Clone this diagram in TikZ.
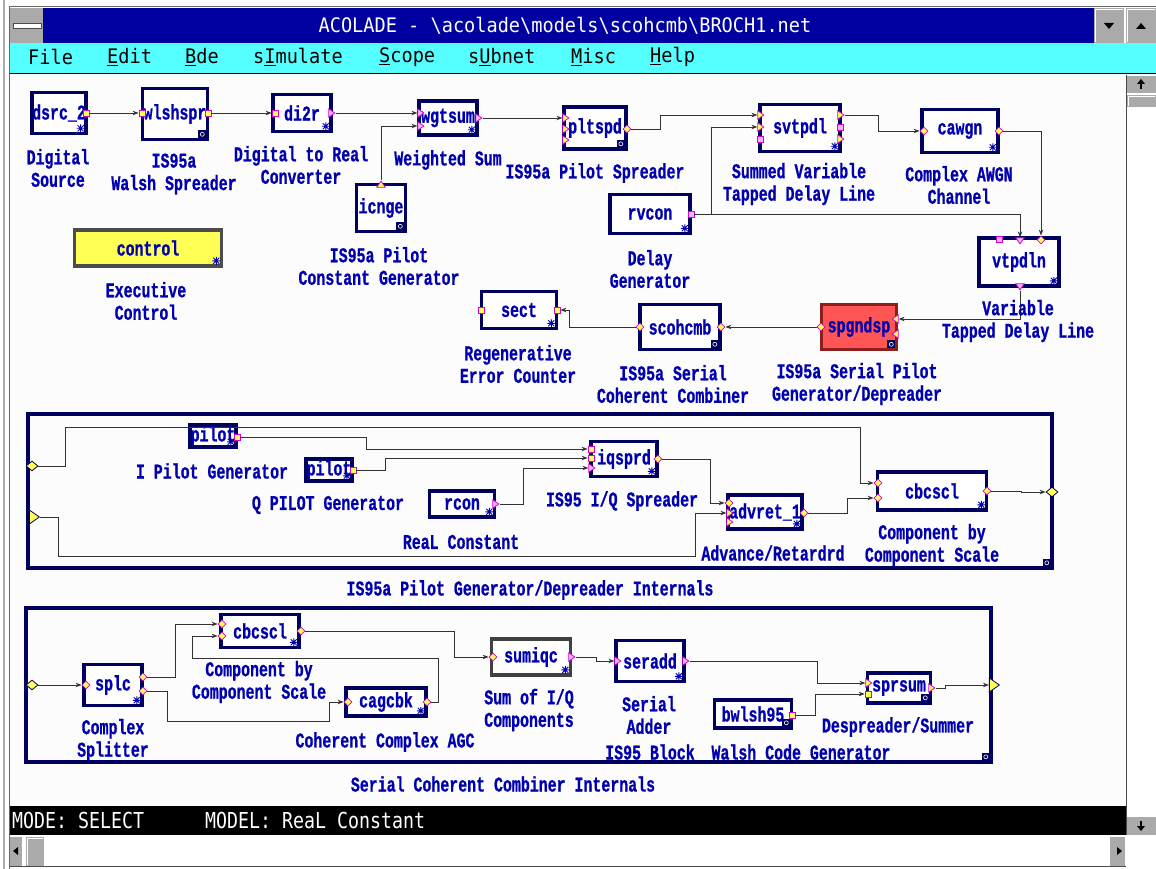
\documentclass[tikz,border=0pt]{standalone}
\usepackage{fontspec}
\usetikzlibrary{shapes.geometric, arrows.meta, calc}
\newfontfamily\lblfont[FakeStretch=0.71,FakeBold=0.8]{Liberation Mono}
\newfontfamily\sysfont[FakeStretch=0.93]{DejaVu Sans Mono}
\newfontfamily\statfont[FakeStretch=0.83]{DejaVu Sans Mono}
\newcommand{\lblf}{\lblfont\bfseries\fontsize{21}{22.5}\selectfont}
\newcommand{\sysf}{\sysfont\fontsize{20}{22}\selectfont}
\newcommand{\statf}{\statfont\fontsize{22}{24}\selectfont}
\definecolor{navyc}{RGB}{0,0,95}
\definecolor{tbar}{RGB}{0,0,160}
\definecolor{bluet}{RGB}{0,0,175}
\definecolor{cyanm}{RGB}{85,255,255}
\definecolor{yelp}{RGB}{255,255,85}
\definecolor{magp}{RGB}{215,0,215}
\definecolor{redb}{RGB}{255,85,85}
\definecolor{redd}{RGB}{140,30,30}
\definecolor{grayb}{RGB}{170,170,170}
\definecolor{bgc}{RGB}{252,252,252}
\tikzset{
  pics/astk/.style={code={\draw[bluet, line width=0.9pt] (-4,0)--(4,0) (0,-4)--(0,4) (-3,-3)--(3,3) (-3,3)--(3,-3);}},
  pics/sqicon/.style={code={\fill[navyc] (-4,-4) rectangle (4,4); \draw[white, line width=0.6pt] (0,0) circle (2);}}
}
\begin{document}
\begin{tikzpicture}[x=1pt,y=-1pt,
  blk/.style={draw=navyc, line width=3.6pt, fill=white, inner sep=0pt, font=\lblf, text=bluet},
  frm/.style={draw=navyc, line width=3.6pt, inner sep=0pt},
  lbl/.style={font=\lblf, text=bluet, align=center, inner sep=0pt},
  menu/.style={font=\sysf, text=black, anchor=west, inner sep=0pt},
  psq/.style={rectangle, draw=magp, fill=yelp, line width=0.8pt, minimum size=6pt, inner sep=0pt},
  pdia/.style={diamond, draw=magp, fill=yelp, line width=0.8pt, minimum size=8pt, inner sep=0pt},
  ptri/.style={isosceles triangle, isosceles triangle apex angle=70, draw=magp, fill=yelp, line width=0.8pt, minimum height=6pt, minimum width=7pt, inner sep=0pt, shape border rotate=#1},
  ptri/.default=0,
  pk/.style={fill=magp!30},
  big/.style={minimum size=12pt, minimum height=10pt, minimum width=12pt, draw=navyc},
  wire/.style={draw=black!80, line width=0.9pt, -{Stealth[length=6pt,width=4.5pt]}}
]
\useasboundingbox (0,0) rectangle (1156,869);
\fill[white] (0,0) rectangle (1156,869);
\fill[bgc] (10,75) rectangle (1126,806);
\draw[grayb, line width=1.5pt] (4,0) -- (4,869);
\draw[black!60, line width=1pt] (9,7) -- (9,869);
\draw[black!60, line width=1pt] (9,7) -- (1156,7);
\fill[grayb] (10,8) rectangle (43,43);
\filldraw[fill=white, draw=black!70] (13,23) rectangle (41,28);
\fill[tbar] (43,8) rectangle (1094,43);
\fill[grayb] (1094,8) rectangle (1124,43);
\fill[grayb] (1126,8) rectangle (1156,43);
\draw[white] (1095,42) -- (1095,9) -- (1123,9);
\draw[white] (1127,42) -- (1127,9) -- (1155,9);
\fill[black] (1104,23) -- (1114,23) -- (1109,29) -- cycle;
\fill[black] (1136,29) -- (1146,29) -- (1141,23) -- cycle;
\node[font=\sysf, text=white, inner sep=0pt] (ttl) at (565,26) {ACOLADE - \textbackslash acolade\textbackslash models\textbackslash scohcmb\textbackslash BROCH1.net};
\fill[cyanm] (10,43) rectangle (1156,73);
\draw[black, line width=1pt] (10,74) -- (1156,74);
\node[menu] (mfile) at (28,57) {File};
\node[menu] (medit) at (107,57) {\underline{E}dit};
\node[menu] (mbde) at (185,57) {\underline{B}de};
\node[menu] (msim) at (253,57) {s\underline{I}mulate};
\node[menu] (mscope) at (379,57) {\underline{S}cope};
\node[menu] (msub) at (468,57) {s\underline{U}bnet};
\node[menu] (mmisc) at (571,57) {\underline{M}isc};
\node[menu] (mhelp) at (650,57) {\underline{H}elp};
\draw[black!70, line width=1pt] (1126,75) -- (1126,835);
\fill[grayb] (1127,76) rectangle (1156,93);
\fill[black] (1137,84) -- (1145,84) -- (1141,79) -- cycle;
\draw[black, line width=1.2pt] (1141,84) -- (1141,89);
\fill[grayb] (1127,95) rectangle (1156,107);
\draw[white] (1128,106) -- (1128,96) -- (1155,96);
\fill[grayb] (1127,817) rectangle (1156,835);
\fill[black] (1137,826) -- (1145,826) -- (1141,831) -- cycle;
\draw[black, line width=1.2pt] (1141,821) -- (1141,826);
\fill[black] (10,806) rectangle (1126,835);
\node[font=\statf, text=white, anchor=west, inner sep=0pt] (smode) at (12,820) {MODE: SELECT};
\node[font=\statf, text=white, anchor=west, inner sep=0pt] (smodel) at (205,820) {MODEL: ReaL Constant};
\draw[black!70, line width=1pt] (10,866) -- (1126,866);
\fill[grayb] (10,837) rectangle (22,866);
\fill[black] (13,851) -- (18,847) -- (18,855) -- cycle;
\fill[grayb] (26,837) rectangle (44,866);
\draw[white] (27,865) -- (27,838) -- (43,838);
\fill[grayb] (1110,837) rectangle (1125,866);
\fill[black] (1122,851) -- (1117,847) -- (1117,855) -- cycle;

\node[blk, minimum width=53pt, minimum height=41pt] (dsrc) at (59,113) {dsrc\_2};
\node[blk, minimum width=65pt, minimum height=51pt] (wlsh) at (175,114) {wlshspr};
\node[blk, minimum width=58pt, minimum height=37pt] (di2r) at (302,113) {di2r};
\node[blk, minimum width=58pt, minimum height=34pt] (wgtsum) at (448,118) {wgtsum};
\node[blk, minimum width=49pt, minimum height=47pt] (icnge) at (381,208) {icnge};
\node[blk, minimum width=62pt, minimum height=42pt] (pltspd) at (595,128) {pltspd};
\node[blk, minimum width=80pt, minimum height=47pt] (svtpdl) at (800,128) {svtpdl};
\node[blk, minimum width=76pt, minimum height=43pt] (cawgn) at (960,131) {cawgn};
\node[blk, minimum width=80pt, minimum height=39pt] (rvcon) at (650,214) {rvcon};
\node[blk, minimum width=80pt, minimum height=48pt] (vtpdln) at (1019,262) {vtpdln};
\node[blk, draw=black!70, fill=yelp, minimum width=147pt, minimum height=36pt] (control) at (148,248) {control};
\node[blk, minimum width=75pt, minimum height=37pt] (sect) at (519,310) {sect};
\node[blk, minimum width=80pt, minimum height=45pt] (scohcmb) at (680,327) {scohcmb};
\node[blk, draw=redd, fill=redb, minimum width=75pt, minimum height=45pt] (spgndsp) at (859,327) {spgndsp};

\node[frm, minimum width=1024pt, minimum height=154pt] (pgdint) at (540,491) {};
\node[blk, minimum width=46pt, minimum height=22pt] (pilotI) at (213,436) {pilot};
\node[blk, minimum width=46pt, minimum height=22pt] (pilotQ) at (329,470) {pilot};
\node[blk, minimum width=65pt, minimum height=26pt] (rcon) at (462,504) {rcon};
\node[blk, minimum width=66pt, minimum height=35pt] (iqsprd) at (624,459) {iqsprd};
\node[blk, minimum width=74pt, minimum height=34pt] (advret) at (765,512) {advret\_1};
\node[blk, minimum width=109pt, minimum height=38pt] (cbcsclA) at (932,491) {cbcscl};

\node[frm, minimum width=965pt, minimum height=154pt] (sccint) at (508.5,685) {};
\node[blk, minimum width=58pt, minimum height=41pt] (splc) at (113,685) {splc};
\node[blk, minimum width=78pt, minimum height=33pt] (cbcsclB) at (260,631) {cbcscl};
\node[blk, minimum width=80pt, minimum height=28pt] (cagcbk) at (386,702) {cagcbk};
\node[blk, draw=black!75, minimum width=79pt, minimum height=36pt] (sumiqc) at (531,657) {sumiqc};
\node[blk, minimum width=68pt, minimum height=41pt] (seradd) at (650,661) {seradd};
\node[blk, minimum width=63pt, minimum height=30pt] (sprsum) at (899,688) {sprsum};
\node[blk, minimum width=77pt, minimum height=28pt] (bwlsh) at (753,714) {bwlsh95};

\foreach \b in {dsrc,di2r,wgtsum,svtpdl,cawgn,rvcon,vtpdln,control,sect,pilotI,pilotQ,rcon,iqsprd,advret,cbcsclA,splc,cbcsclB,cagcbk,sumiqc,seradd}
  \pic at ($(\b.south east)+(-7,-7)$) {astk};
\foreach \b in {wlsh,icnge,pltspd,scohcmb,spgndsp,sprsum,bwlsh,pgdint,sccint}
  \pic at ($(\b.south east)+(-7,-7)$) {sqicon};

\node[psq] (dsrcO) at (86,113) {};
\node[psq] (wlshI) at (142,113) {};
\node[psq] (wlshO) at (208,113) {};
\node[psq] (di2rI) at (275,113) {};
\node[ptri, pk] (di2rO) at (331,113) {};
\node[ptri, pk] (wgtI1) at (420,113) {};
\node[ptri, pk] (wgtI2) at (420,126) {};
\node[ptri, pk] (wgtO) at (478,118) {};
\node[ptri=90] (icngT) at (381,185) {};
\node[ptri] (pltI1) at (565,118) {};
\node[ptri] (pltI2) at (565,129) {};
\node[ptri] (pltI3) at (565,140) {};
\node[pdia] (pltO) at (627,129) {};
\node[ptri] (svtI1) at (760,115) {};
\node[ptri] (svtI2) at (760,127) {};
\node[psq, pk] (svtI3) at (760,139) {};
\node[ptri] (svtO1) at (840,115) {};
\node[psq, pk] (svtO2) at (840,127) {};
\node[ptri] (svtO3) at (840,139) {};
\node[pdia] (cawI) at (924,131) {};
\node[pdia] (cawO) at (999,131) {};
\node[psq, pk] (rvcO) at (691,214) {};
\node[psq, pk] (vtpT1) at (999,239) {};
\node[ptri=270, pk] (vtpT2) at (1020,240) {};
\node[pdia] (vtpT3) at (1041,240) {};
\node[ptri=270, pk] (vtpB) at (1020,286) {};
\node[ptri=180] (spgR1) at (896,319) {};
\node[ptri=180] (spgR2) at (896,334) {};
\node[pdia] (spgL) at (821,327) {};
\node[pdia] (scoL) at (640,327) {};
\node[pdia] (scoR) at (721,327) {};
\node[psq] (sectL) at (481,310) {};
\node[psq] (sectR) at (557,310) {};

\node[pdia, big] (mpIn1) at (32,466) {};
\node[ptri, big] (mpIn2) at (33,517) {};
\node[pdia, big] (mpOut) at (1052,492) {};
\node[psq] (pilIO) at (237,437) {};
\node[psq] (pilQO) at (353,470) {};
\node[ptri, pk] (rconO) at (495,504) {};
\node[psq] (iqI1) at (591,449) {};
\node[psq] (iqI2) at (591,458) {};
\node[ptri, pk] (iqI3) at (591,468) {};
\node[pdia] (iqO) at (658,459) {};
\node[pdia] (advI1) at (729,503) {};
\node[ptri] (advI2) at (729,513) {};
\node[ptri] (advI3) at (729,522) {};
\node[pdia] (advO) at (804,513) {};
\node[pdia] (cbaI1) at (878,483) {};
\node[pdia] (cbaI2) at (878,498) {};
\node[pdia] (cbaO) at (987,491) {};

\node[pdia, big] (bpIn) at (32,685) {};
\node[ptri, big] (bpOut) at (993,685) {};
\node[pdia] (splI) at (86,685) {};
\node[pdia] (splO1) at (143,677) {};
\node[pdia] (splO2) at (143,691) {};
\node[pdia] (cbbI1) at (222,624) {};
\node[pdia] (cbbI2) at (222,636) {};
\node[pdia] (cbbO) at (301,631) {};
\node[pdia] (cagI) at (348,702) {};
\node[pdia] (cagO) at (427,702) {};
\node[pdia] (sumI) at (493,657) {};
\node[ptri, pk] (sumO) at (571,657) {};
\node[ptri, pk] (serI) at (617,661) {};
\node[ptri, pk] (serO) at (685,661) {};
\node[ptri] (sprI1) at (868,683) {};
\node[psq] (sprI2) at (868,694) {};
\node[ptri] (sprO) at (931,688) {};
\node[psq] (bwlO) at (792,715) {};

\draw[wire] (dsrcO) -- (wlshI);
\draw[wire] (wlshO) -- (di2rI);
\draw[wire] (di2rO) -- (wgtI1);
\draw[wire] (icngT) |- (wgtI2);
\draw[wire] (wgtO) -- (pltI1);
\draw[wire] (pltO) -- ++(33,0) |- (svtI1);
\draw[wire] (rvcO) -- ++(20,0) |- (svtI2);
\draw[wire] (rvcO) -| (vtpT2);
\draw[wire] (svtO1) -- ++(38,0) |- (cawI);
\draw[wire] (cawO) -| (vtpT3);
\draw[wire] (vtpB) |- (spgR1);
\draw[wire] (spgL) -- (scoR);
\draw[wire] (scoL) -- ++(-71,0) |- (sectR);

\draw[wire] (mpIn1) -| (65,427) -| (860,483) -- (cbaI1);
\draw[wire] (mpIn2) -| (58,556) -| (695,513) -- (advI2);
\draw[wire] (pilIO) -| (366,449) -- (iqI1);
\draw[wire] (pilQO) -| (385,458) -- (iqI2);
\draw[wire] (rconO) -| (523,468) -- (iqI3);
\draw[wire] (iqO) -| (710,503) -- (advI1);
\draw[wire] (advO) -| (847,498) -- (cbaI2);
\draw[wire] (cbaO) -| (1021,492) -- (mpOut);

\draw[wire] (bpIn) -- (splI);
\draw[wire] (splO1) -| (175,624) -- (cbbI1);
\draw[wire] (splO2) -| (167,721) -| (329,702) -- (cagI);
\draw[wire] (cagO) -| (438,658) -| (192,636) -- (cbbI2);
\draw[wire] (cbbO) -| (454,657) -- (sumI);
\draw[wire] (sumO) -| (596,661) -- (serI);
\draw[wire] (serO) -| (817,683) -- (sprI1);
\draw[wire] (bwlO) -| (815,694) -- (sprI2);
\draw[wire] (sprO) -| (945,685) -- (bpOut);

\node[lbl] (ldsrc) at (58,168) {Digital\\Source};
\node[lbl] (lwlsh) at (174,174) {IS95a\\Walsh Spreader};
\node[lbl] (ldi2r) at (301,165) {Digital to Real\\Converter};
\node[lbl] (lwgt) at (448,160) {Weighted Sum};
\node[lbl] (lplt) at (595,173) {IS95a Pilot Spreader};
\node[lbl] (lsvt) at (799,184) {Summed Variable\\Tapped Delay Line};
\node[lbl] (lcaw) at (959,185) {Complex AWGN\\Channel};
\node[lbl] (licn) at (379,266) {IS95a Pilot\\Constant Generator};
\node[lbl] (lctl) at (146,301) {Executive\\Control};
\node[lbl] (lrvc) at (650,269) {Delay\\Generator};
\node[lbl] (lvtp) at (1018,321) {Variable\\Tapped Delay Line};
\node[lbl] (lsect) at (518,364) {Regenerative\\Error Counter};
\node[lbl] (lsco) at (673,384) {IS95a Serial\\Coherent Combiner};
\node[lbl] (lspg) at (857,384) {IS95a Serial Pilot\\Generator/Depreader};

\node[lbl] (lpilI) at (212,471) {I Pilot Generator};
\node[lbl] (lpilQ) at (328,505) {Q PILOT Generator};
\node[lbl] (lrcon) at (461,542) {ReaL Constant};
\node[lbl] (liqs) at (622,501) {IS95 I/Q Spreader};
\node[lbl] (ladv) at (773,553) {Advance/Retardrd};
\node[lbl] (lcbA) at (932,545) {Component by\\Component Scale};
\node[lbl] (lpgd) at (530,590) {IS95a Pilot Generator/Depreader Internals};

\node[lbl] (lcbB) at (259,682) {Component by\\Component Scale};
\node[lbl] (lsplc) at (113,740) {Complex\\Splitter};
\node[lbl] (lcag) at (385,742) {Coherent Complex AGC};
\node[lbl] (lsum) at (529,710) {Sum of I/Q\\Components};
\node[lbl] (lser) at (649,715) {Serial\\Adder};
\node[lbl] (lblk) at (650,752) {IS95 Block};
\node[lbl] (lbwl) at (801,752) {Walsh Code Generator};
\node[lbl] (lspr) at (898,727) {Despreader/Summer};
\node[lbl] (lsci) at (503,784) {Serial Coherent Combiner Internals};
\end{tikzpicture}
\end{document}
